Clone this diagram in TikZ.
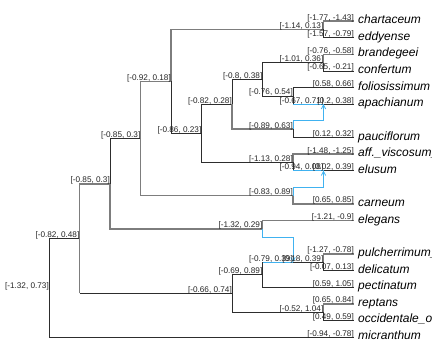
\documentclass[tikz,border=0pt]{standalone}
\usepackage{fontspec}
\setmainfont{Liberation Sans}
\usetikzlibrary{arrows.meta}
\definecolor{hybblue}{RGB}{64,178,240}
\definecolor{edgedark}{RGB}{45,45,45}
\definecolor{edgegray}{RGB}{125,125,125}
\begin{document}
\begin{tikzpicture}[
    x=1pt, y=-1pt,
    edge/.style={line width=0.7pt, edgedark},
    edgeg/.style={line width=1.6pt, edgegray},
    hyb/.style={line width=0.8pt, hybblue},
    minor/.style={hyb, -{Straight Barb[length=4pt, width=4.5pt]}},
    lab/.style={anchor=base east, inner sep=0pt, yshift=1pt, text=black!85,
        font=\fontsize{8.2}{8.2}\selectfont},
    tip/.style={anchor=mid west, inner sep=0pt, xshift=4pt,
        font=\fontsize{12}{12}\selectfont\itshape}
]
    \useasboundingbox (0,0) rectangle (432,360);

    % tips
    \coordinate (chart) at (354,21.0);
    \coordinate (eddy) at (354,37.6);
    \coordinate (brand) at (354,54.3);
    \coordinate (confe) at (354,70.9);
    \coordinate (folio) at (354,87.5);
    \coordinate (apach) at (354,104.2);
    \coordinate (pauci) at (354,137.4);
    \coordinate (affvi) at (354,154.0);
    \coordinate (elusu) at (354,170.7);
    \coordinate (carne) at (354,203.9);
    \coordinate (elega) at (354,220.6);
    \coordinate (pulch) at (354,253.8);
    \coordinate (delic) at (354,270.5);
    \coordinate (pecti) at (354,287.1);
    \coordinate (rept) at (354,303.7);
    \coordinate (occid) at (354,320.3);
    \coordinate (micra) at (354,337.0);

    % internal and hybrid nodes
    \coordinate (root) at (49,287.7);
    \coordinate (nA) at (79.5,238.5);
    \coordinate (nB) at (110,183.7);
    \coordinate (nD) at (140.5,138.4);
    \coordinate (n092) at (171,81.3);
    \coordinate (n114) at (323.5,29.3);
    \coordinate (n086) at (201.5,133.3);
    \coordinate (n082) at (232,104.2);
    \coordinate (n080) at (262.5,79.2);
    \coordinate (n101) at (323.5,62.6);
    \coordinate (n076) at (293,95.85);
    \coordinate (h1) at (323.5,104.2);
    \coordinate (n089) at (293,129.1);
    \coordinate (s1) at (323.5,120.8);
    \coordinate (n113) at (293,162.3);
    \coordinate (h2) at (323.5,170.7);
    \coordinate (n083) at (293,195.6);
    \coordinate (s2) at (323.5,187.3);
    \coordinate (n132) at (262.5,228.9);
    \coordinate (s3) at (293,237.2);
    \coordinate (n066) at (232,293.3);
    \coordinate (n069) at (262.5,274.6);
    \coordinate (h3) at (293,262.2);
    \coordinate (nI) at (323.5,262.2);
    \coordinate (n052) at (323.5,312);

    % tree edges
    \draw[edge] (root) |- (nA);
    \draw[edge] (root) |- (micra);
    \draw[edgeg] (nA) |- (nB);
    \draw[edgeg] (nA) -- (nA |- n066);
    \draw[edge] (nA |- n066) -- (n066);
    \draw[edge] (nB) |- (nD);
    \draw[edgeg] (nB) |- (n132);
    \draw[edgeg] (nD) |- (n092);
    \draw[edgeg] (nD) |- (n083);
    \draw[edgeg] (n092) |- (n114);
    \draw[edge] (n092) |- (n086);
    \draw[edgeg] (n114) |- (chart);
    \draw[edge] (n114) |- (eddy);
    \draw[edge] (n086) |- (n082);
    \draw[edge] (n086) |- (n113);
    \draw[edge] (n082) |- (n080);
    \draw[edgeg] (n082) |- (n089);
    \draw[edge] (n080) |- (n101);
    \draw[edge] (n080) |- (n076);
    \draw[edgeg] (n101) |- (brand);
    \draw[edge] (n101) |- (confe);
    \draw[edge] (n076) |- (folio);
    \draw[edge] (n076) -- (n076 |- h1);
    \draw[hyb] (n076 |- h1) -- (h1);
    \draw[edge] (h1) -- (apach);
    \draw[edge] (n089) |- (pauci);
    \draw[edgeg] (n113) |- (affvi);
    \draw[edge] (n113) -- (n113 |- h2);
    \draw[hyb] (n113 |- h2) -- (h2);
    \draw[edge] (h2) -- (elusu);
    \draw[edgeg] (n083) |- (carne);
    \draw[edgeg] (n132) |- (elega);
    \draw[edge] (n066) |- (n069);
    \draw[edge] (n066) |- (n052);
    \draw[edge] (n069) -- (n069 |- h3);
    \draw[hyb] (n069 |- h3) -- (h3);
    \draw[edge] (n069) |- (pecti);
    \draw[edge] (h3) -- (nI);
    \draw[edgeg] (nI) |- (pulch);
    \draw[edge] (nI) |- (delic);
    \draw[edgeg] (n052) |- (rept);
    \draw[edge] (n052) |- (occid);

    % minor hybrid edges
    \draw[minor] (n089) |- (s1) -- (h1);
    \draw[minor] (n083) |- (s2) -- (h2);
    \draw[minor] (n132) |- (s3) -- (h3);

    % interval labels
    \node[lab, anchor=east, yshift=0pt] (l-root) at (root) {[-1.32, 0.73]};
    \node[lab] (l-nA) at (nA) {[-0.82, 0.48]};
    \node[lab] (l-nB) at (nB) {[-0.85, 0.3]};
    \node[lab] (l-nD) at (nD) {[-0.85, 0.3]};
    \node[lab] (l-n092) at (n092) {[-0.92, 0.18]};
    \node[lab] (l-n114) at (n114) {[-1.14, 0.13]};
    \node[lab] (l-n086) at (n086) {[-0.86, 0.23]};
    \node[lab] (l-n082) at (n082) {[-0.82, 0.28]};
    \node[lab] (l-n080) at (n080) {[-0.8, 0.38]};
    \node[lab] (l-n101) at (n101) {[-1.01, 0.36]};
    \node[lab] (l-n076) at (n076) {[-0.76, 0.54]};
    \node[lab] (l-h1) at (h1) {[-0.67, 0.71]};
    \node[lab] (l-n089) at (n089) {[-0.89, 0.63]};
    \node[lab] (l-n113) at (n113) {[-1.13, 0.28]};
    \node[lab] (l-h2) at (h2) {[-0.94, 0.08]};
    \node[lab] (l-n083) at (n083) {[-0.83, 0.89]};
    \node[lab] (l-n132) at (n132) {[-1.32, 0.29]};
    \node[lab] (l-n066) at (n066) {[-0.66, 0.74]};
    \node[lab] (l-n069) at (n069) {[-0.69, 0.89]};
    \node[lab] (l-h3) at (h3) {[-0.79, 0.39]};
    \node[lab] (l-nI) at (nI) {[0.18, 0.39]};
    \node[lab] (l-n052) at (n052) {[-0.52, 1.04]};

    \node[lab] (l-chart) at (chart) {[-1.77, -1.43]};
    \node[lab] (l-eddy) at (eddy) {[-1.57, -0.79]};
    \node[lab] (l-brand) at (brand) {[-0.76, -0.58]};
    \node[lab] (l-confe) at (confe) {[-0.65, -0.21]};
    \node[lab] (l-folio) at (folio) {[0.58, 0.66]};
    \node[lab] (l-apach) at (apach) {[0.2, 0.38]};
    \node[lab] (l-pauci) at (pauci) {[0.12, 0.32]};
    \node[lab] (l-affvi) at (affvi) {[-1.48, -1.25]};
    \node[lab] (l-elusu) at (elusu) {[0.02, 0.39]};
    \node[lab] (l-carne) at (carne) {[0.65, 0.85]};
    \node[lab] (l-elega) at (elega) {[-1.21, -0.9]};
    \node[lab] (l-pulch) at (pulch) {[-1.27, -0.78]};
    \node[lab] (l-delic) at (delic) {[-0.07, 0.13]};
    \node[lab] (l-pecti) at (pecti) {[0.59, 1.05]};
    \node[lab] (l-rept) at (rept) {[0.65, 0.84]};
    \node[lab] (l-occid) at (occid) {[0.49, 0.59]};
    \node[lab] (l-micra) at (micra) {[-0.94, -0.78]};

    % tip names
    \node[tip] (t-chart) at (chart) {chartaceum};
    \node[tip] (t-eddy) at (eddy) {eddyense};
    \node[tip] (t-brand) at (brand) {brandegeei};
    \node[tip] (t-confe) at (confe) {confertum};
    \node[tip] (t-folio) at (folio) {foliosissimum};
    \node[tip] (t-apach) at (apach) {apachianum};
    \node[tip] (t-pauci) at (pauci) {pauciflorum};
    \node[tip] (t-affvi) at (affvi) {aff.\_viscosum\_};
    \node[tip] (t-elusu) at (elusu) {elusum};
    \node[tip] (t-carne) at (carne) {carneum};
    \node[tip] (t-elega) at (elega) {elegans};
    \node[tip] (t-pulch) at (pulch) {pulcherrimum\_};
    \node[tip] (t-delic) at (delic) {delicatum};
    \node[tip] (t-pecti) at (pecti) {pectinatum};
    \node[tip] (t-rept) at (rept) {reptans};
    \node[tip] (t-occid) at (occid) {occidentale\_o};
    \node[tip] (t-micra) at (micra) {micranthum};
\end{tikzpicture}
\end{document}
